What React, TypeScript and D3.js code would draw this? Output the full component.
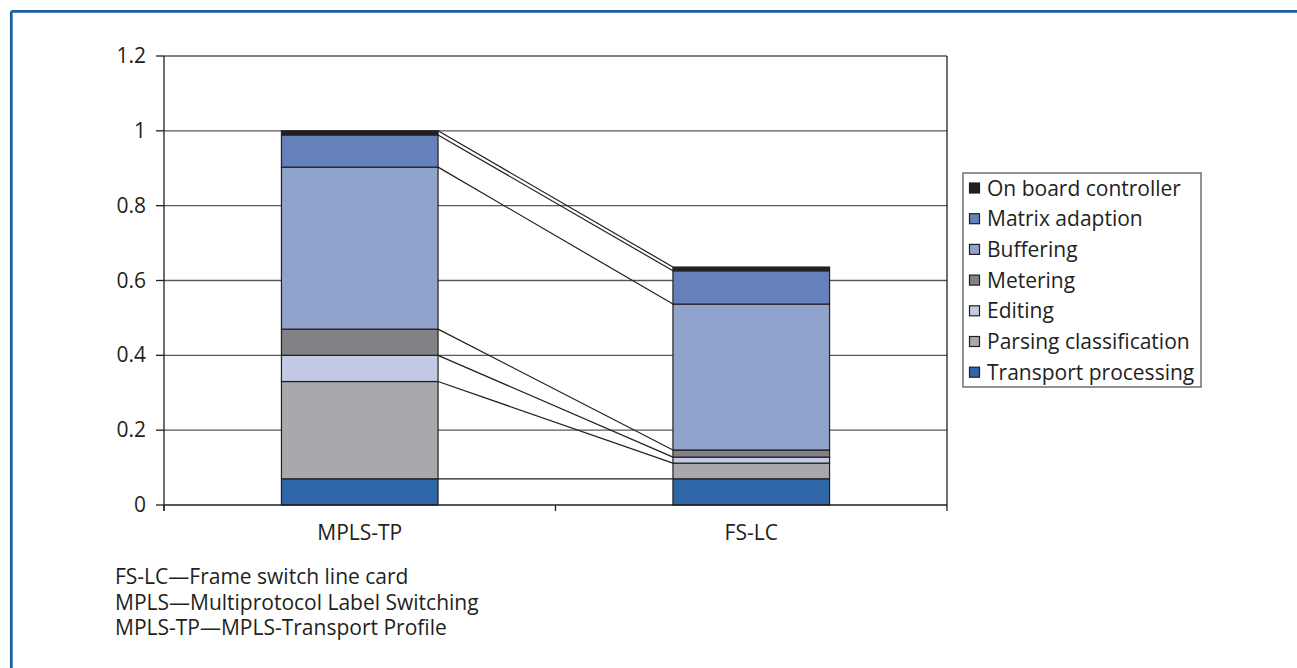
import React from "react";
import * as d3 from "d3";

const categories = ["MPLS-TP", "FS-LC"];
const seriesNames = [
  "Transport processing",
  "Parsing classification",
  "Editing",
  "Metering",
  "Buffering",
  "Matrix adaption",
  "On board controller",
];
const mplsTp = [0.07, 0.26, 0.07, 0.07, 0.433, 0.086, 0.011];
const fsLc = [0.07, 0.042, 0.016, 0.019, 0.39, 0.089, 0.01];
const seriesColors = ["#2e66a8", "#a7a9ac", "#c2cae4", "#808285", "#8fa3cd", "#6581b9", "#231f20"];
const yTicks = [0, 0.2, 0.4, 0.6, 0.8, 1, 1.2];
const footnotes = [
  "FS-LC\u2014Frame switch line card",
  "MPLS\u2014Multiprotocol Label Switching",
  "MPLS-TP\u2014MPLS-Transport Profile",
];

const W = 1297;
const H = 668;
const plot = { left: 164, right: 947, top: 56, bottom: 505 };
const font = "'Open Sans', sans-serif";
const ink = "#231f20";
const fs = 21;

export default function App() {
  const x = d3.scaleBand<string>().domain(categories).range([plot.left, plot.right]).paddingInner(0.6).paddingOuter(0.3);
  const y = d3.scaleLinear().domain([0, 1.2]).range([plot.bottom, plot.top]);
  const values = [mplsTp, fsLc];
  const stacks = values.map((v) => {
    let acc = 0;
    return v.map((d) => {
      const y0 = acc;
      acc += d;
      return [y0, acc];
    });
  });
  const bw = x.bandwidth();
  const step = x.step();
  const catTicks = [plot.left, plot.left + step, plot.left + 2 * step];

  return (
    <svg width={W} height={H} style={{ position: "absolute", left: 0, top: 0, background: "#fff" }}>
      {/* frame */}
      <line x1={11.3} y1={11.3} x2={W} y2={11.3} stroke="#1b5ea6" strokeWidth={2.7} />
      <line x1={11.3} y1={11.3} x2={11.3} y2={H} stroke="#1b5ea6" strokeWidth={2.7} />

      {/* grid */}
      {yTicks.filter((t) => t > 0).map((t) => (
        <line key={t} x1={plot.left} x2={plot.right} y1={y(t)} y2={y(t)} stroke="#58595b" strokeWidth={1.3} />
      ))}
      <line x1={plot.right} x2={plot.right} y1={plot.top} y2={plot.bottom} stroke={ink} strokeWidth={1.3} />

      {/* series lines */}
      {seriesNames.map((s, i) => (
        <line
          key={s}
          x1={(x(categories[0]) as number) + bw}
          y1={y(stacks[0][i][1])}
          x2={x(categories[1]) as number}
          y2={y(stacks[1][i][1])}
          stroke={ink}
          strokeWidth={1.2}
        />
      ))}

      {/* bars */}
      {categories.map((c, ci) => (
        <g key={c}>
          {stacks[ci].map(([a, b], i) => (
            <rect
              key={i}
              x={x(c)}
              y={y(b)}
              width={bw}
              height={y(a) - y(b)}
              fill={seriesColors[i]}
              stroke={ink}
              strokeWidth={1.2}
            />
          ))}
        </g>
      ))}

      {/* axes */}
      <line x1={plot.left} x2={plot.left} y1={plot.top} y2={plot.bottom + 6} stroke={ink} strokeWidth={1.3} />
      <line x1={plot.left} x2={plot.right} y1={plot.bottom} y2={plot.bottom} stroke={ink} strokeWidth={1.3} />
      {yTicks.map((t) => (
        <g key={t}>
          <line x1={plot.left - 8} x2={plot.left} y1={y(t)} y2={y(t)} stroke={ink} strokeWidth={1.3} />
          <text x={plot.left - 18} y={y(t) + 7} textAnchor="end" fontFamily={font} fontSize={fs} fill={ink}>
            {String(t)}
          </text>
        </g>
      ))}
      {catTicks.map((t) => (
        <line key={t} x1={t} x2={t} y1={plot.bottom} y2={plot.bottom + 6} stroke={ink} strokeWidth={1.3} />
      ))}
      {categories.map((c) => (
        <text key={c} x={(x(c) as number) + bw / 2} y={540} textAnchor="middle" fontFamily={font} fontSize={fs} fill={ink}>
          {c}
        </text>
      ))}

      {/* legend */}
      <rect x={963} y={173} width={238} height={214} fill="#fff" stroke="#58595b" strokeWidth={1.3} />
      {seriesNames.slice().reverse().map((s, i) => {
        const idx = seriesNames.length - 1 - i;
        const cy = 188 + i * 30.7;
        return (
          <g key={s}>
            <rect x={969.5} y={cy - 5} width={10} height={10} fill={seriesColors[idx]} stroke={ink} strokeWidth={1.2} />
            <text x={987} y={cy + 7.5} fontFamily={font} fontSize={fs} fill={ink}>
              {s}
            </text>
          </g>
        );
      })}

      {/* footnotes */}
      {footnotes.map((f, i) => (
        <text key={f} x={115} y={584 + i * 25.5} fontFamily={font} fontSize={fs} fill={ink}>
          {f}
        </text>
      ))}
    </svg>
  );
}
